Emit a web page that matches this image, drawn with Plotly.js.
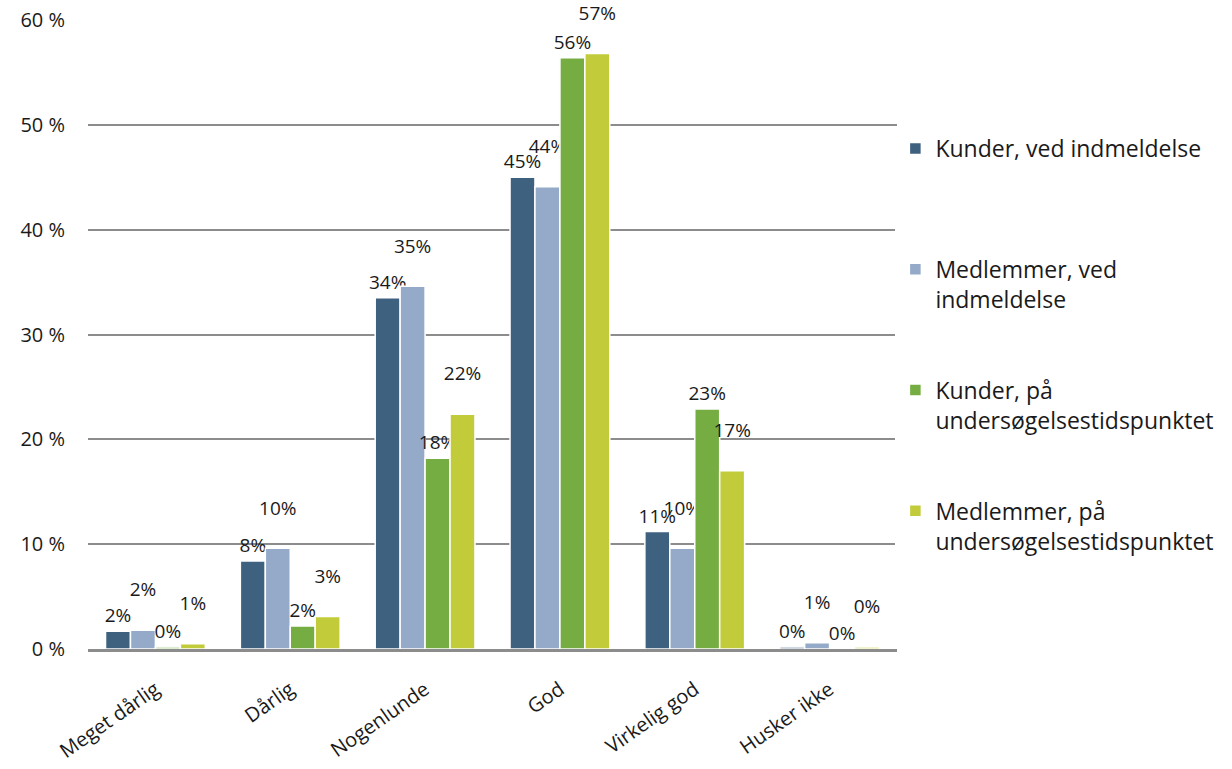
<!DOCTYPE html>
<html><head><meta charset="utf-8">
<script src="https://cdn.plot.ly/plotly-3.0.1.min.js"></script>
<style>html,body{margin:0;padding:0;background:#fff}#chart{width:1232px;height:769px}</style>
</head><body><div id="chart"></div>
<script>
const categories = ['Meget dårlig','Dårlig','Nogenlunde','God','Virkelig god','Husker ikke'];
const seriesNames = ['Kunder, ved indmeldelse\u00a0<br>\u00a0','Medlemmer, ved<br>indmeldelse','Kunder, på<br>undersøgelsestidspunktet','Medlemmer, på<br>undersøgelsestidspunktet'];
const kunderVed = [1.7, 8.4, 33.5, 45.0, 11.2, 0.2];
const medlemmerVed = [1.8, 9.6, 34.6, 44.1, 9.6, 0.6];
const kunderPaa = [0.2, 2.2, 18.2, 56.4, 22.9, 0.0];
const medlemmerPaa = [0.5, 3.1, 22.4, 56.8, 17.0, 0.2];
const colors = ['#3F6180','#94AAC8','#76AD42','#C2CC3A'];
const yTicks = [0,10,20,30,40,50,60];
const yTickText = ['0 %','10 %','20 %','30 %','40 %','50 %','60 %'];

const font = 'Open Sans, sans-serif';
const allSeries = [kunderVed, medlemmerVed, kunderPaa, medlemmerPaa];
const labelTemplates = ['%{y:.0f}%', '%{y:.0f}%<br>\u00a0', '%{y:.0f}%', '%{y:.0f}%<br>\u00a0'];
const traces = allSeries.map((vals, i) => ({
  type: 'bar', x: categories, y: vals, name: seriesNames[i], legendgroup: 'g' + i,
  marker: {color: colors[i], line: {color: '#ffffff', width: 1.5}},
  texttemplate: labelTemplates[i], textposition: 'outside', cliponaxis: false,
  constraintext: 'none', textfont: {family: font, size: 19, color: '#1a1a1a'},
  hoverinfo: 'x+y+name'
}));

const layout = {
  width: 1232, height: 769,
  margin: {l: 88, r: 335, t: 20, b: 120},
  paper_bgcolor: '#fff', plot_bgcolor: '#fff',
  barmode: 'group', bargap: 0.26, bargroupgap: 0,
  font: {family: font, color: '#1a1a1a'},
  xaxis: {
    showline: true, linecolor: '#8c8c8c', linewidth: 3, ticks: '',
    tickangle: -35, tickfont: {family: font, size: 20, color: '#1a1a1a'},
    ticklabelstandoff: 18, showgrid: false, zeroline: false, fixedrange: true
  },
  yaxis: {
    range: [0, 60], tickvals: yTicks, ticktext: yTickText,
    showgrid: true, gridcolor: '#8c8c8c', gridwidth: 2, zeroline: false, showline: false,
    ticks: '', tickfont: {family: font, size: 20, color: '#1a1a1a'}, ticklabelstandoff: 22, fixedrange: true
  },
  showlegend: true,
  legend: {
    x: 0.998, xanchor: 'left', y: 0.83, yanchor: 'top',
    traceorder: 'grouped', tracegroupgap: 58, valign: 'top',
    font: {family: font, size: 23, color: '#1a1a1a'}, itemclick: false, itemdoubleclick: false
  }
};
Plotly.newPlot('chart', traces, layout, {displayModeBar: false, staticPlot: true});
</script></body></html>
